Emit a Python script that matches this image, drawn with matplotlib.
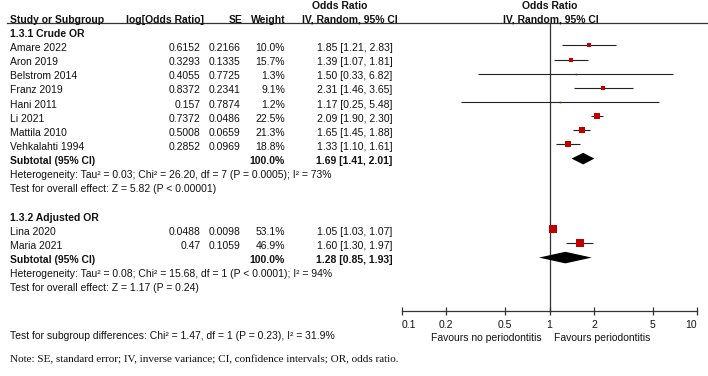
import numpy as np
import matplotlib
matplotlib.use("Agg")
import matplotlib.pyplot as plt

# ---------------- data ----------------
crude_studies = ["Amare 2022", "Aron 2019", "Belstrom 2014", "Franz 2019", "Hani 2011",
                 "Li 2021", "Mattila 2010", "Vehkalahti 1994"]
crude_logor = ["0.6152", "0.3293", "0.4055", "0.8372", "0.157", "0.7372", "0.5008", "0.2852"]
crude_se = ["0.2166", "0.1335", "0.7725", "0.2341", "0.7874", "0.0486", "0.0659", "0.0969"]
crude_weight = [10.0, 15.7, 1.3, 9.1, 1.2, 22.5, 21.3, 18.8]
crude_or = [1.85, 1.39, 1.50, 2.31, 1.17, 2.09, 1.65, 1.33]
crude_lo = [1.21, 1.07, 0.33, 1.46, 0.25, 1.90, 1.45, 1.10]
crude_hi = [2.83, 1.81, 6.82, 3.65, 5.48, 2.30, 1.88, 1.61]
crude_sub = (1.69, 1.41, 2.01)

adj_studies = ["Lina 2020", "Maria 2021"]
adj_logor = ["0.0488", "0.47"]
adj_se = ["0.0098", "0.1059"]
adj_weight = [53.1, 46.9]
adj_or = [1.05, 1.60]
adj_lo = [1.03, 1.30]
adj_hi = [1.07, 1.97]
adj_sub = (1.28, 0.85, 1.93)

tick_values = [0.1, 0.2, 0.5, 1, 2, 5, 10]
tick_labels = ["0.1", "0.2", "0.5", "1", "2", "5", "10"]

crude_het = "Heterogeneity: Tau² = 0.03; Chi² = 26.20, df = 7 (P = 0.0005); I² = 73%"
crude_test = "Test for overall effect: Z = 5.82 (P < 0.00001)"
adj_het = "Heterogeneity: Tau² = 0.08; Chi² = 15.68, df = 1 (P < 0.0001); I² = 94%"
adj_test = "Test for overall effect: Z = 1.17 (P = 0.24)"
subgroup_test = "Test for subgroup differences: Chi² = 1.47, df = 1 (P = 0.23), I² = 31.9%"
note = "Note: SE, standard error; IV, inverse variance; CI, confidence intervals; OR, odds ratio."

# ---------------- layout ----------------
W, H = 708, 376
FS = 7.5
SANS = "Liberation Sans"
RED = "#c00000"

def ry(r):
    return 19.7 + 14.14 * r

fig = plt.figure(figsize=(W / 100, H / 100), dpi=100)
axt = fig.add_axes([0, 0, 1, 1])
axt.set_xlim(0, W)
axt.set_ylim(H, 0)
axt.axis("off")

x0_px, x1_px = 401.7, 697.3
axf = fig.add_axes([x0_px / W, 0, (x1_px - x0_px) / W, 1])
axf.set_xscale("log")
axf.set_xlim(0.1, 10)
axf.set_ylim(H, 0)
axf.patch.set_alpha(0)
for s in ["top", "left", "right"]:
    axf.spines[s].set_visible(False)

def txt(x, y, s, ha="left", bold=False, **kw):
    axt.text(x, y, s, ha=ha, va="center", fontsize=FS, family=SANS,
             fontweight="bold" if bold else "normal", color="#111111", **kw)

# header
txt(340, ry(-1), "Odds Ratio", ha="center", bold=True)
txt(550, ry(-1), "Odds Ratio", ha="center", bold=True)
txt(9.5, ry(0), "Study or Subgroup", bold=True)
txt(204, ry(0), "log[Odds Ratio]", ha="right", bold=True)
txt(242.5, ry(0), "SE", ha="right", bold=True)
txt(285.7, ry(0), "Weight", ha="right", bold=True)
txt(350, ry(0), "IV, Random, 95% CI", ha="center", bold=True)
txt(551, ry(0), "IV, Random, 95% CI", ha="center", bold=True)
axt.plot([7, W], [22.8, 22.8], color="#333333", lw=0.9)

MK_OFF = -2.5

def draw_group(r0, title, studies, logor, se, weight, orv, lo, hi, sub, het, test):
    txt(9.5, ry(r0), title, bold=True)
    for i, name in enumerate(studies):
        r = r0 + 1 + i
        y = ry(r)
        txt(9.5, y, name)
        txt(200.7, y, logor[i], ha="right")
        txt(240.7, y, se[i], ha="right")
        txt(285, y, f"{weight[i]:.1f}%", ha="right")
        txt(392.7, y, f"{orv[i]:.2f} [{lo[i]:.2f}, {hi[i]:.2f}]", ha="right")
        ym = y + MK_OFF
        axf.plot([lo[i], hi[i]], [ym, ym], color="#222222", lw=0.8, solid_capstyle="butt")
        side_px = max(1.6, 1.2 * np.sqrt(weight[i]))
        axf.plot([orv[i]], [ym], marker="s", ms=side_px * 0.72, color=RED, mew=0, zorder=3)
    rs = r0 + 1 + len(studies)
    y = ry(rs)
    txt(9.5, y, "Subtotal (95% CI)", bold=True)
    txt(285, y, "100.0%", ha="right", bold=True)
    txt(392.7, y, f"{sub[0]:.2f} [{sub[1]:.2f}, {sub[2]:.2f}]", ha="right", bold=True)
    ym = y + MK_OFF
    h = 5.8
    axf.fill([sub[1], sub[0], sub[2], sub[0]], [ym, ym - h, ym, ym + h], color="black", lw=0, zorder=3)
    txt(9.5, ry(rs + 1), het)
    txt(9.5, ry(rs + 2), test)

draw_group(1, "1.3.1 Crude OR", crude_studies, crude_logor, crude_se, crude_weight,
           crude_or, crude_lo, crude_hi, crude_sub, crude_het, crude_test)
draw_group(14, "1.3.2 Adjusted OR", adj_studies, adj_logor, adj_se, adj_weight,
           adj_or, adj_lo, adj_hi, adj_sub, adj_het, adj_test)

# axis
axis_y = 310.7
axf.plot([1, 1], [22.8, axis_y], color="#333333", lw=0.9, zorder=1)
axf.spines["bottom"].set_position(("data", axis_y))
axf.spines["bottom"].set_bounds(0.1, 10)
axf.spines["bottom"].set_color("#333333")
axf.spines["bottom"].set_linewidth(0.9)
axf.set_yticks([])
axf.set_xticks(tick_values)
axf.set_xticklabels(tick_labels)
axf.xaxis.set_minor_locator(matplotlib.ticker.NullLocator())
axf.tick_params(axis="x", direction="inout", length=6, width=0.9, color="#333333",
                labelsize=FS, pad=4)
for lab in axf.get_xticklabels():
    lab.set_fontfamily(SANS)
    lab.set_color("#111111")
labs = axf.get_xticklabels()
labs[0].set_ha("left")
labs[-1].set_ha("right")

txt(541.7, 338.3, "Favours no periodontitis", ha="right")
txt(554, 338.3, "Favours periodontitis", ha="left")

txt(9.5, 336, subgroup_test)
axt.text(9.5, 360, note, ha="left", va="center", fontsize=8, family="Liberation Serif", color="#111111")

fig.savefig("out.png", dpi=100)
